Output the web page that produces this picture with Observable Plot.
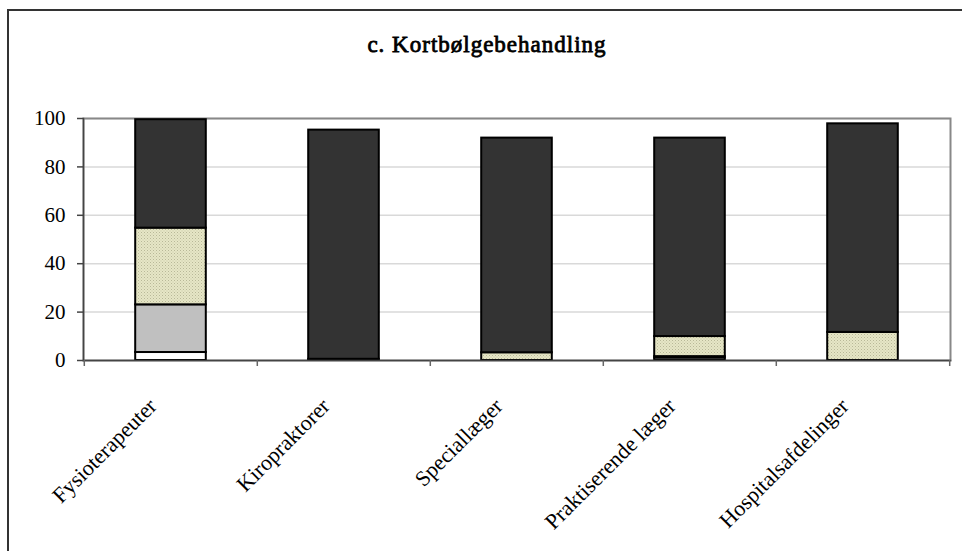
<!DOCTYPE html>
<html>
<head>
<meta charset="utf-8">
<script src="https://cdn.jsdelivr.net/npm/d3@7"></script>
<script src="https://cdn.jsdelivr.net/npm/@observablehq/plot@0.6"></script>
<style>
  html, body { margin: 0; padding: 0; background: #fff; }
  #wrap { position: relative; width: 962px; height: 551px; overflow: hidden; background: #fff; }
  #frame { position: absolute; left: 7px; top: 9px; width: 1000px; height: 1000px; border: 2px solid #333; box-sizing: border-box; }
  #title { position: relative; height: 100px; width: 974px; text-align: center; font-family: 'Liberation Serif', 'Times New Roman', serif; font-weight: 400; -webkit-text-stroke: 0.8px #000; font-size: 23px; line-height: 1; padding-top: 33px; box-sizing: border-box; color: #000; letter-spacing: 1px; }
  #chart { position: relative; }
</style>
</head>
<body>
<div id="wrap">
  <div id="frame"></div>
  <div id="title">c. Kortbølgebehandling</div>
  <div id="chart"></div>
</div>
<script>
const categories = ["Fysioterapeuter", "Kiropraktorer", "Speciallæger", "Praktiserende læger", "Hospitalsafdelinger"];
const seriesNames = ["Dagligt", "Ugentligt", "Sjældnere", "Aldrig"];
const dagligt   = [3.3, 0, 0, 1.0, 0];
const ugentligt = [19.7, 0, 0, 0.6, 0];
const sjaeldnere = [31.7, 0.5, 3.2, 8.3, 11.6];
const aldrig    = [44.8, 94.7, 88.7, 82.0, 86.2];
const yTicks = [0, 20, 40, 60, 80, 100];

const seriesValues = [dagligt, ugentligt, sjaeldnere, aldrig];
const data = [];
seriesNames.forEach((s, si) => {
  categories.forEach((c, ci) => {
    const v = seriesValues[si][ci];
    if (v > 0) data.push({category: c, series: s, value: v});
  });
});

const W = 962, ML = 83, MR = 12;
const bw = (W - ML - MR) / categories.length;
const barW = 71;
const inset = (bw - barW) / 2;

const chart = Plot.plot({
  width: W,
  height: 451,
  marginLeft: ML,
  marginRight: MR,
  marginTop: 18,
  marginBottom: 191,
  style: {fontFamily: "'Liberation Serif', 'Times New Roman', serif", background: "transparent", color: "#000"},
  x: {domain: categories, padding: 0, axis: null},
  y: {domain: [0, 100], axis: null},
  color: {domain: seriesNames, range: ["#ffffff", "#c0c0c0", "url(#dots)", "#333333"]},
  marks: [
    Plot.gridY(yTicks, {stroke: "#d9d9d9", strokeOpacity: 1, strokeWidth: 1.5}),
    Plot.frame({stroke: "#888", strokeWidth: 2}),
    Plot.barY(data, {x: "category", y: "value", fill: "series", order: seriesNames, stroke: "#000", strokeWidth: 2, insetLeft: inset, insetRight: inset}),
    Plot.frame({anchor: "left", stroke: "#444", strokeWidth: 1.5}),
    Plot.frame({anchor: "bottom", stroke: "#444", strokeWidth: 1.5}),
    Plot.axisY(yTicks, {label: null, tickSize: 6, tickPadding: 12, fontSize: 21, stroke: "#444", strokeWidth: 1.5, fill: "#000"}),
    Plot.ruleX(categories, {x: d => d, y1: 0, y2: 0, dx: -bw / 2, insetBottom: -6, stroke: "#666", strokeWidth: 1.5}),
    Plot.ruleX(categories.slice(-1), {x: d => d, y1: 0, y2: 0, dx: bw / 2, insetBottom: -6, stroke: "#666", strokeWidth: 1.5}),
    Plot.text(categories, {x: d => d, y: d => 0, text: d => d, rotate: -45, textAnchor: "end", dx: -18, dy: 42, fontSize: 22, fill: "#000"})
  ]
});

chart.insertAdjacentHTML("afterbegin",
  '<defs><pattern id="dots" patternUnits="userSpaceOnUse" width="3" height="3">' +
  '<rect width="3" height="3" fill="#e6e6c6"></rect>' +
  '<rect x="0" y="0" width="1" height="1" fill="#b8b898"></rect>' +
  '<rect x="1.5" y="1.5" width="1" height="1" fill="#c8c8a8"></rect>' +
  '</pattern></defs>');

document.getElementById("chart").appendChild(chart);
</script>
</body>
</html>
